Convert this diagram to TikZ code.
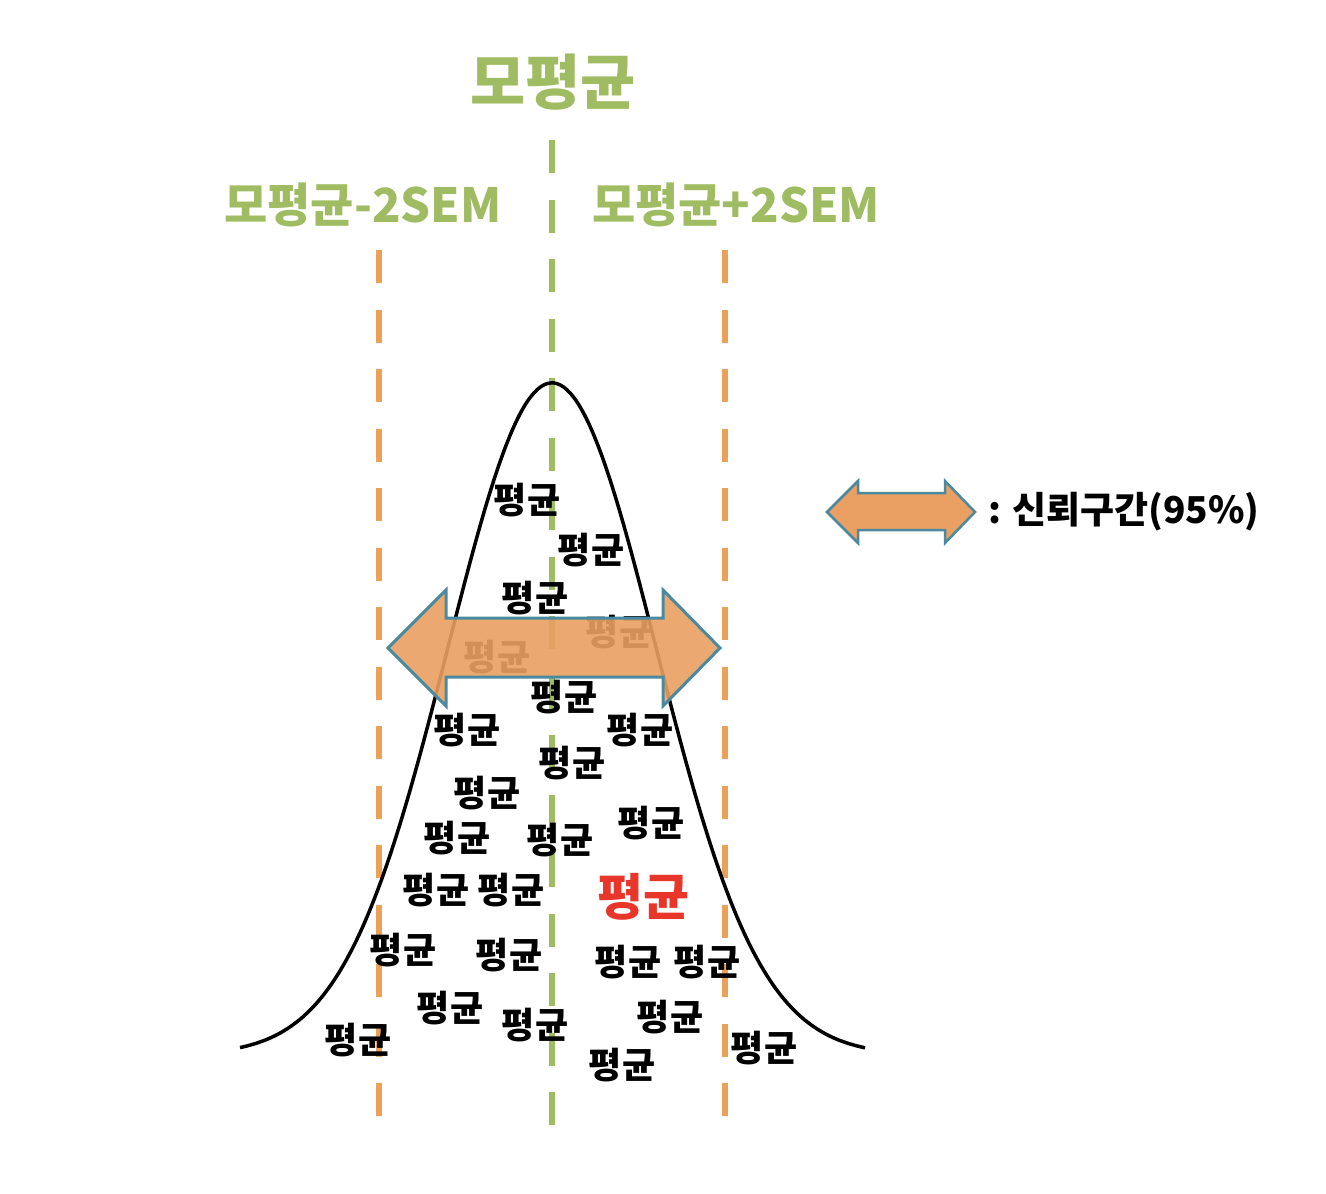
\documentclass[tikz,border=0pt]{standalone}
\usepackage{fontspec}
\newfontfamily\kr{Noto Sans CJK KR}
\definecolor{mgreen}{HTML}{9FBC62}
\definecolor{morange}{HTML}{EDA05A}
\definecolor{afill}{HTML}{E9A062}
\definecolor{aedge}{HTML}{4A8AA0}
\definecolor{mred}{HTML}{E8362A}
\tikzset{
  green dash/.style={mgreen, line width=6pt, dash pattern=on 33pt off 26.5pt},
  orange dash/.style={morange, line width=6pt, dash pattern=on 33pt off 26.5pt},
  mean/.style={font=\kr\bfseries\fontsize{36}{36}\selectfont, inner sep=0pt},
  glabel/.style={font=\kr\bfseries\fontsize{47}{47}\selectfont, text=mgreen, inner sep=0pt},
  bigarrow/.style={fill=afill, draw=aedge, line width=3pt, line join=miter},
}
\begin{document}
\begin{tikzpicture}[x=1pt,y=-1pt]
\useasboundingbox (0,0) rectangle (1326,1194);
% titles
\node[glabel, font=\kr\bfseries\fontsize{60}{60}\selectfont] (top) at (553,82) {모평균};
\node[glabel] (lminus) at (363,205) {모평균-2SEM};
\node[glabel] (lplus) at (736,205) {모평균+2SEM};
% vertical dashed lines
\coordinate (g1) at (552,140); \coordinate (g2) at (552,1125);
\coordinate (o1) at (379,250); \coordinate (o2) at (379,1117);
\coordinate (p1) at (725,250); \coordinate (p2) at (725,1117);
\draw[green dash] (g1) -- (g2);
\draw[orange dash] (o1) -- (o2);
\draw[orange dash] (p1) -- (p2);
% bell curve
\draw[black, line width=3.5pt] plot[domain=240:865, samples=200, smooth] (\x, {1055 - 672*exp(-0.5*((\x-552)/104)^2)});
% means
\foreach \n/\x/\y in {a/527/500, b/591/550, c/535/598, f/564/697, g/467/730, h/640/730, i/572/763, j/487/793, k/457/838, l/560/840, m/651/823, n/436/890, o/511/890, q/403/950, r/509/955, s/628/962, t/707/962, u/450/1008, v/535/1025, w/670/1017, x/358/1040, y/622/1065, z/764/1048}
  \node[mean] (m\n) at (\x,\y) {평균};
\node[mean] (md) at (497,657) {평균};
\node[mean] (me) at (619,632) {평균};
\node[mean, text=mred, font=\kr\bfseries\fontsize{50}{50}\selectfont] (mred) at (643,897) {평균};
% main double arrow (semi-transparent)
\draw[bigarrow, fill opacity=0.9] (388,648) -- (446,590) -- (446,618) -- (663,618) -- (663,590) -- (720,648) -- (663,706) -- (663,677) -- (446,677) -- (446,706) -- cycle;
% legend
\draw[bigarrow, line width=2.5pt] (827,512) -- (858,481) -- (858,493) -- (945,493) -- (945,481) -- (975,512) -- (945,543) -- (945,530) -- (858,530) -- (858,543) -- cycle;
\node[font=\kr\bfseries\fontsize{37}{37}\selectfont, anchor=west, inner sep=0pt] (legend) at (988,512) {: 신뢰구간(95\%)};
\end{tikzpicture}
\end{document}
